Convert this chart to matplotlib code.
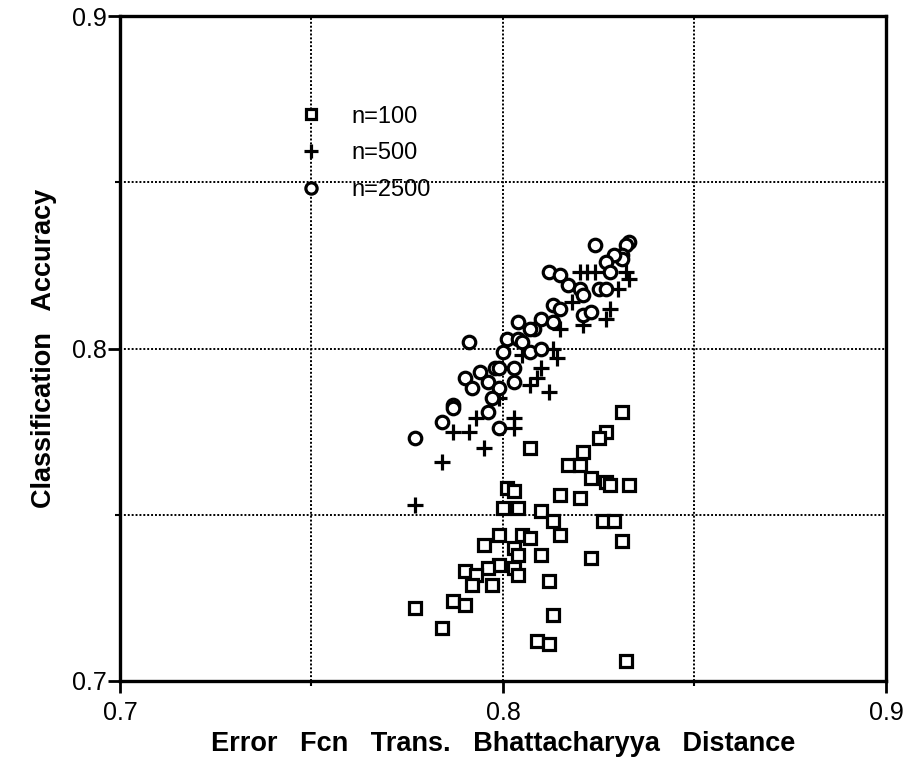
import matplotlib
matplotlib.use("Agg")
import matplotlib.pyplot as plt

plt.rcParams['font.family'] = ['Liberation Sans', 'DejaVu Sans']

# n=100 (squares)
x100 = [0.831, 0.827, 0.825, 0.807, 0.821, 0.817, 0.820, 0.823, 0.827, 0.828,
        0.833, 0.801, 0.803, 0.815, 0.820, 0.800, 0.804, 0.810, 0.813, 0.815,
        0.826, 0.829, 0.831, 0.799, 0.805, 0.807, 0.795, 0.803, 0.804, 0.810,
        0.823, 0.799, 0.796, 0.803, 0.804, 0.790, 0.793, 0.792, 0.797, 0.812,
        0.787, 0.790, 0.777, 0.813, 0.784, 0.809, 0.812, 0.832]
y100 = [0.781, 0.775, 0.773, 0.770, 0.769, 0.765, 0.765, 0.761, 0.760, 0.759,
        0.759, 0.758, 0.757, 0.756, 0.755, 0.752, 0.752, 0.751, 0.748, 0.744,
        0.748, 0.748, 0.742, 0.744, 0.744, 0.743, 0.741, 0.740, 0.738, 0.738,
        0.737, 0.735, 0.734, 0.734, 0.732, 0.733, 0.732, 0.729, 0.729, 0.730,
        0.724, 0.723, 0.722, 0.720, 0.716, 0.712, 0.711, 0.706]

# n=500 (plus)
x500 = [0.777, 0.784, 0.787, 0.791, 0.795, 0.793, 0.803, 0.803, 0.799, 0.807,
        0.809, 0.810, 0.812, 0.814, 0.813, 0.815, 0.805, 0.821, 0.827, 0.828,
        0.818, 0.830, 0.822, 0.824, 0.820, 0.832, 0.833]
y500 = [0.753, 0.766, 0.775, 0.775, 0.770, 0.779, 0.779, 0.776, 0.785, 0.789,
        0.791, 0.794, 0.787, 0.797, 0.800, 0.806, 0.798, 0.807, 0.809, 0.812,
        0.814, 0.818, 0.823, 0.823, 0.823, 0.823, 0.821]

# n=2500 (circles)
x2500 = [0.824, 0.833, 0.832, 0.831, 0.831, 0.829, 0.827, 0.828, 0.812, 0.815,
         0.817, 0.820, 0.821, 0.825, 0.827, 0.813, 0.815, 0.821, 0.823, 0.810,
         0.813, 0.808, 0.791, 0.804, 0.807, 0.801, 0.804, 0.805, 0.800, 0.807,
         0.810, 0.798, 0.799, 0.803, 0.794, 0.790, 0.792, 0.796, 0.799, 0.803,
         0.797, 0.787, 0.777, 0.784, 0.787, 0.796, 0.799]
y2500 = [0.831, 0.832, 0.831, 0.828, 0.827, 0.828, 0.826, 0.823, 0.823, 0.822,
         0.819, 0.818, 0.816, 0.818, 0.818, 0.813, 0.812, 0.810, 0.811, 0.809,
         0.808, 0.806, 0.802, 0.808, 0.806, 0.803, 0.803, 0.802, 0.799, 0.799,
         0.800, 0.794, 0.794, 0.794, 0.793, 0.791, 0.788, 0.790, 0.788, 0.790,
         0.785, 0.783, 0.773, 0.778, 0.782, 0.781, 0.776]

major_ticks = [0.7, 0.8, 0.9]
minor_ticks = [0.75, 0.85]
tick_labels = ['0.7', '0.8', '0.9']
series_labels = ['n=100', 'n=500', 'n=2500']

fig = plt.figure(figsize=(9.07, 7.76), dpi=100)
ax = fig.add_axes([120/907, 1-681/776, 766/907, 665/776])

ax.set_xlim(0.7, 0.9)
ax.set_ylim(0.7, 0.9)
ax.set_xticks(major_ticks)
ax.set_xticklabels(tick_labels)
ax.set_yticks(major_ticks)
ax.set_yticklabels(tick_labels)
ax.set_xticks(minor_ticks, minor=True)
ax.set_yticks(minor_ticks, minor=True)
ax.tick_params(which='major', direction='out', length=8.5, width=2, labelsize=18)
ax.tick_params(axis='x', which='major', pad=6)
ax.tick_params(axis='y', which='major', pad=1)
ax.tick_params(which='minor', direction='out', length=3.5, width=1.5)
for s in ax.spines.values():
    s.set_linewidth(2.4)
ax.grid(True, which='both', color='black', linestyle=(0, (1, 1)), linewidth=1.4)
ax.set_axisbelow(True)

ms = 8.5
mew = 2.3
ax.plot(x100, y100, linestyle='none', marker='s', ms=ms, mfc='white', mec='black', mew=mew,
        label=series_labels[0])
ax.plot(x500, y500, linestyle='none', marker='+', ms=ms + 3, mec='black', mew=mew,
        label=series_labels[1])
ax.plot(x2500, y2500, linestyle='none', marker='o', ms=ms + 0.5, mfc='white', mec='black', mew=mew,
        label=series_labels[2])

leg = ax.legend(loc='upper left', bbox_to_anchor=(0.206, 0.897), frameon=False,
                fontsize=17, handlelength=1.0, handletextpad=1.2, labelspacing=0.62,
                numpoints=1, markerscale=0.9)

ax.set_xlabel('Error   Fcn   Trans.   Bhattacharyya   Distance', fontsize=19.5,
              fontweight='bold', labelpad=4)
ax.set_ylabel('Classification   Accuracy', fontsize=19.5, fontweight='bold', labelpad=11)

fig.savefig('out.png', dpi=100)
